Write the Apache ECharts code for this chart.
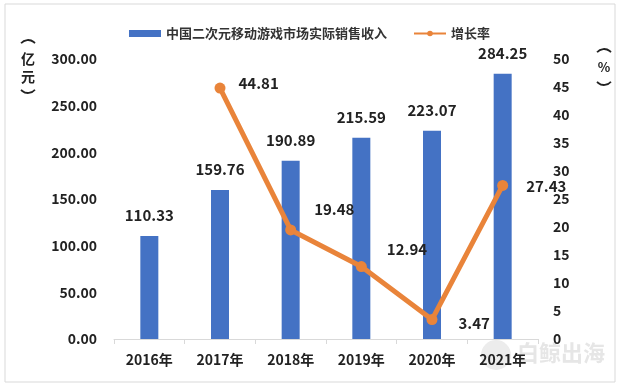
<!DOCTYPE html>
<html>
<head>
<meta charset="utf-8">
<script src="https://cdn.jsdelivr.net/npm/echarts@6/dist/echarts.min.js"></script>
<style>
html,body{margin:0;padding:0;background:#fff;}
#c{width:619px;height:388px;}
</style>
</head>
<body>
<div id="c"></div>
<script>
const categories = ['2016年','2017年','2018年','2019年','2020年','2021年'];
const revenue = [110.33, 159.76, 190.89, 215.59, 223.07, 284.25];
const growth = [null, 44.81, 19.48, 12.94, 3.47, 27.43];
const leftTicks = {min: 0, max: 300, interval: 50};
const rightTicks = {min: 0, max: 50, interval: 5};
const barName = '中国二次元移动游戏市场实际销售收入';
const lineName = '增长率';

// label offsets for growth labels [dx, dy]
const lineLabelOffsets = [[0,0],[8,-5],[13,-21],[15,-17],[16,4],[13,1]];

const FONT = '"Noto Sans CJK SC", "Open Sans", sans-serif';
const chart = echarts.init(document.getElementById('c'), null, {renderer: 'canvas'});

function arcTop(cx, cy) {
  return {type: 'arc', shape: {cx: cx, cy: cy, r: 9, startAngle: Math.PI * 1.22, endAngle: Math.PI * 1.78},
    style: {stroke: '#222', lineWidth: 1.8, fill: 'none'}, silent: true};
}
function arcBottom(cx, cy) {
  return {type: 'arc', shape: {cx: cx, cy: cy, r: 9, startAngle: Math.PI * 0.22, endAngle: Math.PI * 0.78},
    style: {stroke: '#222', lineWidth: 1.8, fill: 'none'}, silent: true};
}
function glyph(x, y, ch, size) {
  return {type: 'text', x: x, y: y,
    style: {text: ch, font: 'bold ' + size + 'px ' + FONT, fill: '#222', align: 'center', verticalAlign: 'middle'}, silent: true};
}

chart.setOption({
  backgroundColor: '#fff',
  animation: false,
  textStyle: {fontFamily: FONT},
  legend: {
    top: 22,
    left: 'center',
    itemGap: 26,
    itemWidth: 32,
    itemHeight: 7,
    textStyle: {fontSize: 13, fontWeight: 'bold', color: '#333', fontFamily: FONT},
    data: [
      {name: barName, icon: 'rect'},
      {name: lineName}
    ]
  },
  grid: {left: 114, right: 81, top: 59, bottom: 49, containLabel: false},
  xAxis: {
    type: 'category',
    data: categories,
    boundaryGap: true,
    axisLine: {lineStyle: {color: '#d9d9d9', width: 1}},
    axisTick: {show: true, length: 5, lineStyle: {color: '#d9d9d9'}},
    axisLabel: {fontSize: 14, fontWeight: 'bold', color: '#222', margin: 14, fontFamily: FONT}
  },
  yAxis: [
    {
      type: 'value',
      min: leftTicks.min, max: leftTicks.max, interval: leftTicks.interval,
      splitLine: {show: false},
      axisLine: {show: false},
      axisTick: {show: false},
      axisLabel: {fontSize: 14, fontWeight: 'bold', color: '#222', margin: 17,
        formatter: v => v.toFixed(2), fontFamily: FONT}
    },
    {
      type: 'value',
      min: rightTicks.min, max: rightTicks.max, interval: rightTicks.interval,
      splitLine: {show: false},
      axisLine: {show: false},
      axisTick: {show: false},
      axisLabel: {fontSize: 14, fontWeight: 'bold', color: '#222', margin: 15, fontFamily: FONT}
    }
  ],
  series: [
    {
      name: barName,
      type: 'bar',
      data: revenue,
      barWidth: 18,
      itemStyle: {color: '#4472C4'},
      label: {show: true, position: 'top', distance: 13, fontSize: 15, fontWeight: 'bold',
        color: '#222', formatter: p => p.value.toFixed(2), fontFamily: FONT},
      z: 2
    },
    {
      name: lineName,
      type: 'line',
      yAxisIndex: 1,
      data: growth.map((v, i) => ({
        value: v,
        label: {offset: lineLabelOffsets[i]}
      })),
      connectNulls: false,
      symbol: 'circle',
      symbolSize: 11,
      lineStyle: {color: '#E9843A', width: 5},
      itemStyle: {color: '#E9843A'},
      label: {show: true, position: 'right', distance: 5, fontSize: 15, fontWeight: 'bold',
        color: '#222', formatter: p => p.value == null ? '' : p.value.toFixed(2), fontFamily: FONT},
      z: 3
    }
  ],
  graphic: [
    {type: 'rect', shape: {x: 5, y: 4, width: 610, height: 378}, style: {fill: 'none', stroke: '#d9d9d9', lineWidth: 1}, z: -10, silent: true},
    arcTop(28, 49),
    glyph(28, 59, '亿', 14),
    glyph(28, 77, '元', 14),
    arcBottom(28, 84),
    arcTop(604, 58),
    glyph(604, 67, '%', 13),
    arcBottom(604, 76),
    {type: 'circle', shape: {cx: 496, cy: 355, r: 15}, style: {fill: '#ececec'}, z: -5, silent: true},
    {type: 'text', left: 517, top: 342, style: {text: '白鲸出海', font: 'bold 22px ' + FONT, fill: '#e6e6e6'}, z: -5, silent: true}
  ]
});
</script>
</body>
</html>
